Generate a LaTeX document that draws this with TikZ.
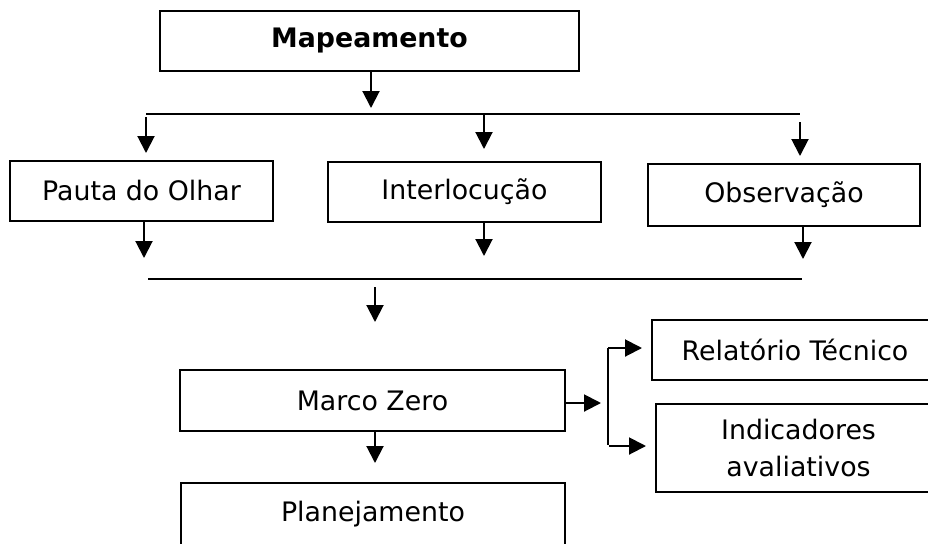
\documentclass[tikz,border=0pt]{standalone}
\usepackage{fontspec}
\setmainfont{DejaVu Sans}
\usetikzlibrary{arrows.meta}
\begin{document}
\begin{tikzpicture}[x=0.5pt,y=-0.5pt,
  box/.style={draw,line width=1pt,inner sep=0pt,rectangle,align=center,font=\fontsize{13.4}{18.5}\selectfont},
  arr/.style={line width=1pt,-{Triangle[length=8.5pt,width=8.5pt]}},
  ln/.style={line width=1pt}]
\useasboundingbox (0,0) rectangle (928,543);
\clip (0,0) rectangle (928,543);
% boxes
\node[box,minimum width=209.5pt,minimum height=30pt,font=\fontsize{13.4}{16}\selectfont\bfseries] (map) at (369.5,41) {Mapeamento};
\node[box,minimum width=131.5pt,minimum height=30pt] (pauta) at (141.5,191) {Pauta do Olhar};
\node[box,minimum width=136.5pt,minimum height=30pt] (inter) at (464.5,192) {Interlocução};
\node[box,minimum width=136pt,minimum height=31pt] (obs) at (784,195) {Observação};
\node[box,minimum width=192.5pt,minimum height=30.5pt] (marco) at (372.5,400.5) {Marco Zero};
\node[box,minimum width=192pt,minimum height=31pt] (plan) at (373,514) {Planejamento};
\node[box,minimum width=143pt,minimum height=30pt] (rel) at (795,350) {Relatório Técnico};
\node[box,minimum width=142.5pt,minimum height=44pt] (ind) at (798.5,448) {Indicadores\\avaliativos};
% coordinates
\coordinate (b1l) at (146,114);
\coordinate (b1r) at (800,114);
\coordinate (b2l) at (148,279);
\coordinate (b2r) at (802,279);
\coordinate (m1) at (371,108);
\coordinate (p1s) at (146,117); \coordinate (p1e) at (146,153);
\coordinate (i1s) at (484,115); \coordinate (i1e) at (484,149);
\coordinate (o1s) at (800,122); \coordinate (o1e) at (800,156);
\coordinate (p2e) at (144,258);
\coordinate (i2e) at (484,256);
\coordinate (o2e) at (803,259);
\coordinate (z1s) at (375,287); \coordinate (z1e) at (375,322);
\coordinate (mr) at (565,403); \coordinate (mre) at (601,403);
\coordinate (vt) at (608,348); \coordinate (vb) at (608,445);
\coordinate (rt) at (642,348);
\coordinate (vb2) at (609,446); \coordinate (it) at (646,446);
\coordinate (mb) at (375,431); \coordinate (mbe) at (375,463);
% connectors
\draw[arr] (map.south -| m1) -- (m1);
\draw[ln] (b1l) -- (b1r);
\draw[arr] (p1s) -- (p1e);
\draw[arr] (i1s) -- (i1e);
\draw[arr] (o1s) -- (o1e);
\draw[arr] (pauta.south -| p2e) -- (p2e);
\draw[arr] (inter.south -| i2e) -- (i2e);
\draw[arr] (obs.south -| o2e) -- (o2e);
\draw[ln] (b2l) -- (b2r);
\draw[arr] (z1s) -- (z1e);
\draw[arr] (marco.east |- mr) -- (mre);
\draw[ln] (vt) -- (vb);
\draw[arr] (vt) -- (rt);
\draw[arr] (vb2) -- (it);
\draw[arr] (marco.south -| mb) -- (mbe);
\end{tikzpicture}
\end{document}
